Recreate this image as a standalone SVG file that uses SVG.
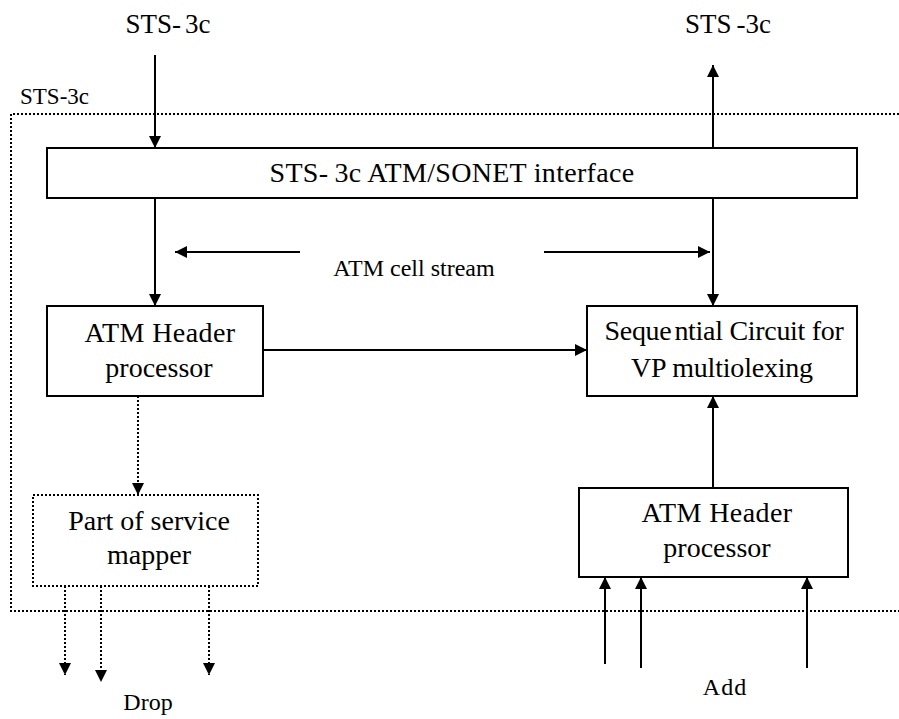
<svg xmlns="http://www.w3.org/2000/svg" width="899" height="719" viewBox="0 0 899 719">
  <style>
    text { font-family: "Liberation Serif", "Times New Roman", serif; fill: #000; text-anchor: middle; }
    .box { fill: #fff; stroke: #000; stroke-width: 2; }
    .dbox { fill: #fff; stroke: #000; stroke-width: 2; stroke-dasharray: 2 2; }
    .wire { fill: none; stroke: #000; stroke-width: 2; }
    .dwire { fill: none; stroke: #000; stroke-width: 2; stroke-dasharray: 2 2; }
    .lbl { font-size: 27px; }
    .blbl { font-size: 28px; }
    .sm { font-size: 24px; }
  </style>
  <defs>
    <marker id="arr" viewBox="0 0 12 12" refX="12" refY="6" markerWidth="12" markerHeight="12" markerUnits="userSpaceOnUse" orient="auto">
      <path d="M0,0 L12,6 L0,12 Z" fill="#000"/>
    </marker>
  </defs>

  <rect width="899" height="719" fill="#fff"/>

  <!-- boundary of the STS-3c section -->
  <g id="boundary">
    <path class="dwire" d="M899,114 H11 V611 H899"/>
    <text x="20" y="104" style="font-size:23px; text-anchor:start">STS-3c</text>
  </g>

  <g id="in-label"><text class="lbl" x="168" y="33">STS-<tspan dx="4">3c</tspan></text></g>
  <g id="out-label"><text class="lbl" x="728" y="33">STS<tspan dx="5">-3c</tspan></text></g>

  <g id="sonet-if">
    <rect class="box" x="47" y="148" width="810" height="50"/>
    <text class="blbl" x="452" y="182" letter-spacing="0.3">STS-<tspan dx="6">3c ATM/SONET interface</tspan></text>
  </g>

  <g id="hdr-proc-1">
    <rect class="box" x="47" y="306" width="216" height="90"/>
    <text class="blbl" x="160" y="342" letter-spacing="0.4">ATM Header</text>
    <text class="blbl" x="159" y="377">processor</text>
  </g>

  <g id="seq-circuit">
    <rect class="box" x="587" y="306" width="270" height="90"/>
    <text class="blbl" x="724" y="340" letter-spacing="-0.3">Seque<tspan dx="3">ntial Circuit for</tspan></text>
    <text class="blbl" x="722" y="377" letter-spacing="-0.2">VP multiolexing</text>
  </g>

  <g id="service-mapper">
    <rect class="dbox" x="33" y="495" width="225" height="91"/>
    <text class="blbl" x="149" y="530">Part of service</text>
    <text class="blbl" x="149" y="564">mapper</text>
  </g>

  <g id="hdr-proc-2">
    <rect class="box" x="579" y="488" width="269" height="89"/>
    <text class="blbl" x="717" y="522" letter-spacing="0.4">ATM Header</text>
    <text class="blbl" x="717" y="557">processor</text>
  </g>

  <g id="stream-label">
    <text x="414" y="276" style="font-size:24px">ATM cell stream</text>
  </g>
  <g id="drop-label"><text class="sm" x="148" y="710">Drop</text></g>
  <g id="add-label"><text class="sm" x="725" y="695" letter-spacing="1">Add</text></g>

  <g id="connectors">
    <line class="wire" x1="155" y1="55" x2="155" y2="148" marker-end="url(#arr)"/>
    <line class="wire" x1="713" y1="148" x2="713" y2="65" marker-end="url(#arr)"/>
    <line class="wire" x1="155" y1="198" x2="155" y2="306" marker-end="url(#arr)"/>
    <line class="wire" x1="713" y1="198" x2="713" y2="306" marker-end="url(#arr)"/>
    <line class="wire" x1="300" y1="252" x2="175" y2="252" marker-end="url(#arr)"/>
    <line class="wire" x1="544" y1="252" x2="710" y2="252" marker-end="url(#arr)"/>
    <line class="wire" x1="263" y1="350" x2="587" y2="350" marker-end="url(#arr)"/>
    <line class="wire" x1="713" y1="488" x2="713" y2="396" marker-end="url(#arr)"/>
    <line class="dwire" x1="138" y1="396" x2="138" y2="495" marker-end="url(#arr)"/>
    <line class="dwire" x1="65" y1="586" x2="65" y2="675" marker-end="url(#arr)"/>
    <line class="dwire" x1="101" y1="586" x2="101" y2="682" marker-end="url(#arr)"/>
    <line class="dwire" x1="209" y1="586" x2="209" y2="675" marker-end="url(#arr)"/>
    <line class="wire" x1="605" y1="664" x2="605" y2="577" marker-end="url(#arr)"/>
    <line class="wire" x1="641" y1="668" x2="641" y2="577" marker-end="url(#arr)"/>
    <line class="wire" x1="807" y1="668" x2="807" y2="577" marker-end="url(#arr)"/>
  </g>
</svg>
